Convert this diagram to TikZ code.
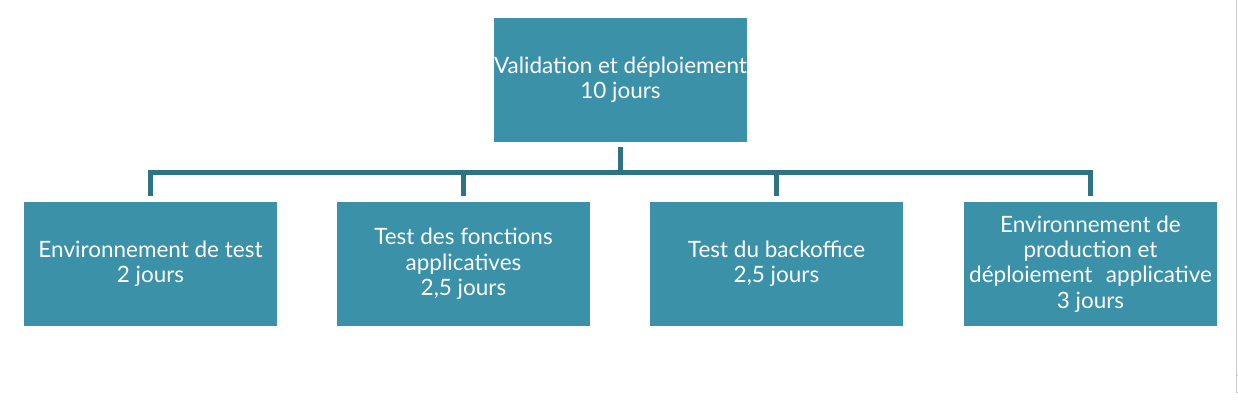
\documentclass[tikz,border=0pt]{standalone}
\usepackage{fontspec}
\setmainfont{Lato}
\usetikzlibrary{positioning}
\definecolor{boxteal}{RGB}{58,145,168}
\definecolor{lineteal}{RGB}{46,114,132}
\definecolor{edgegray}{RGB}{205,205,205}
\tikzset{
	task/.style={
			fill=boxteal, draw=none,
			minimum width=253pt, minimum height=124pt, inner sep=0pt,
			align=center, text=white,
			font=\fontsize{22.5}{25.3}\selectfont
		},
	link/.style={draw=lineteal, line width=5pt}
}

\begin{document}
\begin{tikzpicture}[x=1pt, y=-1pt]
				\useasboundingbox (0,0) rectangle (1238,401);
				\node [task] (top) at (620.5, 80) {Validation et déploiement\\10 jours};
				\node [task] (envtest) at (150.5, 264) {Environnement de test\\2 jours};
				\node [task] (testfonc) at (463.5, 264) {Test des fonctions\\applicatives\\2,5 jours};
				\node [task] (testback) at (776.5, 264) {Test du backoffice\\2,5 jours};
				\node [task] (envprod) at (1090.5, 264) {Environnement de\\production et\\déploiement\hspace{0.6em}applicative\\3 jours};
				\coordinate (bus) at (620.5, 172.5);
				\draw [link] ([yshift=6pt]envtest.north) -- (bus -| envtest.north) -- (bus -| envprod.north) -- ([yshift=6pt]envprod.north);
				\draw [link] ([yshift=-5pt]top.south) -- (top.south |- bus);
				\draw [link] (bus -| testfonc.north) -- ([yshift=6pt]testfonc.north);
				\draw [link] (bus -| testback.north) -- ([yshift=6pt]testback.north);
				\draw [edgegray, line width=1pt] (1236.5, 0) -- (1236.5, 375);
				\draw [edgegray, line width=1pt] (1236.5, 375) rectangle (1240, 392);
			\end{tikzpicture}
\end{document}
